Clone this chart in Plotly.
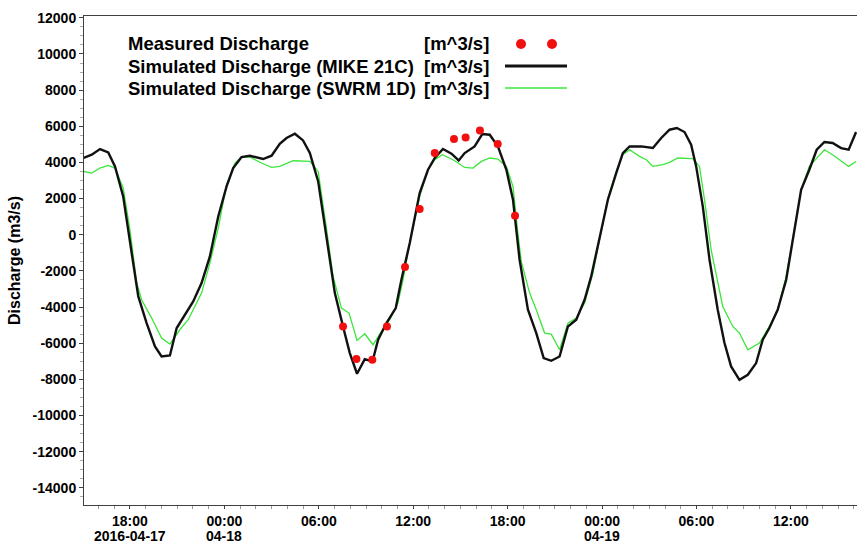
import pandas as pd
import plotly.graph_objects as go

# Time origin for the hour offsets below
T0 = pd.Timestamp("2016-04-17 18:00")

# Simulated discharge, MIKE 21C (hours after T0, m^3/s)
mike_hours = [-2.97, -2.43, -1.90, -1.38, -0.95, -0.43, 0.11, 0.53, 1.06, 1.59, 2.01, 2.54, 2.97,
              3.60, 4.02, 4.55, 5.08, 5.61, 6.14, 6.56, 7.09, 7.62, 8.46, 9.00, 9.52, 9.95, 10.48,
              11.00, 11.43, 11.96, 12.49, 13.02, 13.54, 13.97, 14.43, 14.92, 15.41, 15.77, 16.30,
              16.89, 17.25, 17.78, 18.41, 18.94, 19.37, 19.89, 20.43, 20.89, 21.27, 21.90, 22.39,
              22.86, 23.38, 23.92, 24.34, 24.76, 25.29, 25.82, 26.29, 26.77, 27.30, 27.83, 28.36,
              28.89, 29.31, 29.84, 30.37, 30.90, 31.32, 31.75, 32.49, 33.23, 33.76, 34.29, 34.75,
              35.24, 35.66, 35.98, 36.40, 36.83, 37.35, 37.78, 38.20, 38.73, 39.26, 39.79, 40.21,
              40.63, 41.16, 41.70, 42.12, 42.65, 43.17, 43.64, 44.13, 44.65, 45.19, 45.67, 46.14]
mike_q = [4244, 4426, 4740, 4554, 3780, 2120, -1013, -3414, -4886, -6180, -6733, -6678, -5162,
          -4244, -3690, -2672, -1200, 1013, 2672, 3690, 4299, 4371, 4188, 4371, 5035, 5350, 5588,
          5218, 4520, 2950, -277, -3227, -5073, -6546, -7690, -6878, -7010, -5810, -4886,
          -4056, -2490, -460, 2307, 3596, 4244, 4740, 4482, 4112, 4520, 4885, 5570,
          5533, 4885, 3596, 1937, -1383, -4150, -5440, -6822, -6972, -6733, -5073, -4700,
          -3596, -2305, -92, 1937, 3414, 4520, 4885, 4885, 4795, 5350, 5810, 5904,
          5681, 4980, 3780, 1567, -1383, -4150, -5992, -7286, -8023, -7746, -7100, -5810,
          -5162, -4150, -2490, -277, 2490, 3596, 4703, 5129, 5073, 4795, 4703, 5681]

# Simulated discharge, SWRM 1D (hours after T0, m^3/s)
swrm_hours = [-2.97, -2.43, -1.90, -1.38, -0.95, -0.43, 0.00, 0.43, 0.74, 1.38, 2.01, 2.54, 3.17,
              3.70, 4.02, 4.55, 5.08, 5.61, 6.14, 6.67, 7.09, 7.62, 8.36, 9.00, 9.52, 10.37, 11.43,
              11.96, 12.44, 12.91, 13.44, 13.92, 14.43, 14.92, 15.45, 15.98, 16.51, 17.03, 17.35,
              17.78, 18.41, 18.94, 19.37, 19.85, 20.53, 21.27, 21.80, 22.33, 22.86, 23.38, 23.92,
              24.34, 24.65, 24.87, 25.40, 25.82, 26.35, 26.77, 27.30, 27.83, 28.36, 28.89, 29.42,
              29.84, 30.37, 30.90, 31.32, 31.75, 32.38, 32.81, 33.23, 33.86, 34.29, 34.81, 35.77,
              36.19, 36.51, 36.93, 37.35, 37.67, 38.31, 38.73, 39.26, 40.00, 40.63, 41.16, 41.70,
              42.12, 42.65, 43.17, 43.64, 44.13, 44.65, 45.19, 45.67, 46.14]
swrm_q = [3505, 3412, 3690, 3836, 3690, 2583, 277, -2672, -3596, -4610, -5716, -6048, -5256,
          -4703, -4150, -3226, -1566, 371, 2767, 3967, 4299, 4299, 3967, 3724, 3780, 4094, 4056,
          3502, 650, -2307, -4056, -4333, -5848, -5478, -6086, -5350, -4703, -3780, -2490,
          -460, 2120, 3596, 4150, 4426, 4150, 3724, 3690, 4056, 4244, 4188, 3780,
          2672, 92, -1500, -3227, -4150, -5440, -5496, -6363, -4886, -4610, -3780, -2120,
          -277, 2029, 3505, 4426, 4703, 4333, 4150, 3780, 3873, 4000, 4244, 4205,
          3780, 1937, -830, -2672, -3967, -5073, -5440, -6363, -5992, -5073, -4150, -2307,
          -92, 2490, 3780, 4244, 4703, 4426, 4056, 3780, 4056]

# Measured discharge (hours after T0, m^3/s)
meas_hours = [13.54, 14.39, 15.40, 16.33, 17.48, 18.41, 19.37, 20.59, 21.33, 22.24, 23.37, 24.47]
meas_q = [-5073, -6878, -6916, -5073, -1789, 1420, 4520, 5295, 5383, 5770, 5018, 1051]

# Axis ticks
x_tick_hours = [0, 6, 12, 18, 24, 30, 36, 42]
x_tick_text = ["18:00", "00:00", "06:00", "12:00", "18:00", "00:00", "06:00", "12:00"]
date_hours = [0, 6, 30]
date_text = ["2016-04-17", "04-18", "04-19"]
y_ticks = list(range(-14000, 12001, 2000))

# Legend rows: label, unit
legend_rows = [
    ("Measured Discharge", "[m^3/s]"),
    ("Simulated Discharge (MIKE 21C)", "[m^3/s]"),
    ("Simulated Discharge (SWRM 1D)", "[m^3/s]"),
]


def to_time(hours):
    return [T0 + pd.Timedelta(hours=h) for h in hours]


GREEN = "#3ce63c"
RED = "#f01010"
AXIS = "#404040"
FONT = "Liberation Sans"

fig = go.Figure()
fig.add_trace(go.Scatter(x=to_time(swrm_hours), y=swrm_q, mode="lines",
                         line=dict(color=GREEN, width=1.3), name="SWRM 1D"))
fig.add_trace(go.Scatter(x=to_time(mike_hours), y=mike_q, mode="lines",
                         line=dict(color="#111111", width=2.4), name="MIKE 21C"))
fig.add_trace(go.Scatter(x=to_time(meas_hours), y=meas_q, mode="markers",
                         marker=dict(color=RED, size=8), name="Measured"))

W, H = 857, 545
L, T, R, B = 84, 16, 0, 40
PW, PH = W - L - R, H - T - B


def px_x(px):
    return (px - L) / PW


def px_y(py):
    return (H - B - py) / PH


# Custom legend drawn in paper coordinates
annotations = []
shapes = []
row_y = [44, 66, 88]
for (label, unit), ry in zip(legend_rows, row_y):
    annotations.append(dict(xref="paper", yref="paper", x=px_x(126), y=px_y(ry),
                            xanchor="left", yanchor="middle", showarrow=False, text=label,
                            font=dict(family=FONT, size=18.5, color="black", weight="bold")))
    annotations.append(dict(xref="paper", yref="paper", x=px_x(422), y=px_y(ry),
                            xanchor="left", yanchor="middle", showarrow=False, text=unit,
                            font=dict(family=FONT, size=18.5, color="black", weight="bold")))
for cx in (521, 552):
    shapes.append(dict(type="circle", xref="paper", yref="paper",
                       x0=px_x(cx - 5), x1=px_x(cx + 5), y0=px_y(44 + 5), y1=px_y(44 - 5),
                       fillcolor=RED, line=dict(width=0)))
shapes.append(dict(type="line", xref="paper", yref="paper", x0=px_x(505), x1=px_x(567),
                   y0=px_y(66), y1=px_y(66), line=dict(color="#111111", width=3)))
shapes.append(dict(type="line", xref="paper", yref="paper", x0=px_x(505), x1=px_x(567),
                   y0=px_y(88), y1=px_y(88), line=dict(color=GREEN, width=1.5)))

# Date row under the time ticks
for h, txt in zip(date_hours, date_text):
    annotations.append(dict(xref="x", yref="paper", x=T0 + pd.Timedelta(hours=h), y=px_y(545),
                            xanchor="center", yanchor="bottom", showarrow=False, text=txt,
                            borderpad=0,
                            font=dict(family=FONT, size=14, color="black", weight="bold")))

fig.update_layout(
    width=W, height=H,
    margin=dict(l=L, r=R, t=T, b=B),
    paper_bgcolor="white", plot_bgcolor="white",
    showlegend=False,
    annotations=annotations,
    shapes=shapes,
    font=dict(family=FONT, color="black"),
)

fig.update_xaxes(
    type="date",
    range=[T0 + pd.Timedelta(hours=-2.92), T0 + pd.Timedelta(hours=46.2)],
    tickvals=to_time(x_tick_hours), ticktext=x_tick_text,
    ticks="outside", ticklen=3, tickcolor=AXIS, tickwidth=1,
    tickfont=dict(family=FONT, size=14, color="black", weight="bold"),
    showline=True, linecolor=AXIS, linewidth=1, mirror=True,
    showgrid=False, zeroline=False,
    minor=dict(dtick=3600000, ticks="outside", ticklen=3, tickcolor="#999999", showgrid=False),
)
fig.update_yaxes(
    range=[-14950, 12100],
    tickvals=y_ticks, ticktext=[str(v) for v in y_ticks],
    ticks="outside", ticklen=4, tickcolor=AXIS, tickwidth=1,
    tickfont=dict(family=FONT, size=14, color="black", weight="bold"),
    showline=True, linecolor=AXIS, linewidth=1,
    showgrid=False, zeroline=False,
    minor=dict(dtick=500, ticks="outside", ticklen=3, tickcolor="#aaaaaa", showgrid=False),
    title=dict(text="Discharge (m3/s)", standoff=8,
               font=dict(family=FONT, size=16, color="black", weight="bold")),
)

fig.write_html("out.html")
